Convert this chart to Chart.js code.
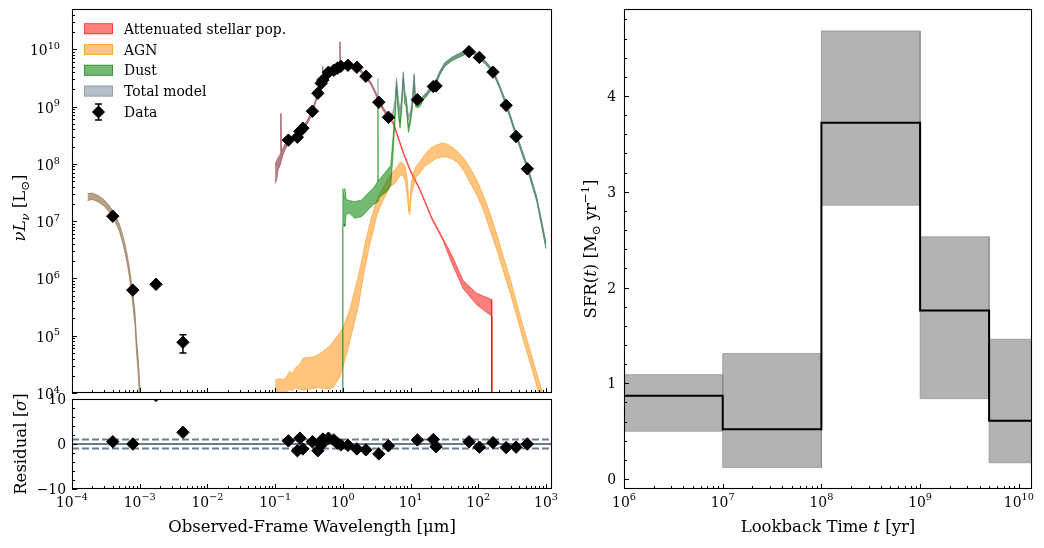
<!DOCTYPE html>
<html><head><meta charset="utf-8">
<script src="https://cdn.jsdelivr.net/npm/chart.js@4.4.1/dist/chart.umd.min.js"></script>
<style>
html,body{margin:0;padding:0;background:#fff;}
#wrap{position:relative;width:1044px;height:548px;overflow:hidden;background:#fff;}
canvas{position:absolute;}
</style></head><body>
<div id="wrap">
<canvas id="sed" width="560" height="420" style="left:0;top:0"></canvas>
<canvas id="res" width="560" height="168" style="left:0;top:380px"></canvas>
<canvas id="sfh" width="474" height="548" style="left:570px;top:0"></canvas>
</div>
<script>
// ================= DATA =================
// Observed photometry (wavelength in micron, nuLnu in L_sun)
const lam    = [4.0e-4, 7.9e-4, 1.74e-3, 4.35e-3, 0.157, 0.213, 0.232, 0.257, 0.355, 0.428, 0.48, 0.507, 0.613, 0.736, 0.829, 0.934, 1.19, 1.61, 2.19, 3.40, 4.71, 12.6, 21.7, 23.8, 73, 104, 165, 258, 362, 530];
const lum    = [1.22e7, 6.25e5, 7.9e5, 7.7e4, 2.6e8, 2.92e8, 3.7e8, 4.2e8, 8.3e8, 1.71e9, 2.55e9, 2.9e9, 3.97e9, 4.31e9, 4.67e9, 5.05e9, 5.26e9, 4.85e9, 3.38e9, 1.19e9, 6.5e8, 1.32e9, 2.24e9, 2.29e9, 9.1e9, 7.2e9, 4.0e9, 1.05e9, 3.0e8, 8.2e7];
const lumErr = [6e5, 4e4, 5e4, 2.7e4, 1.3e7, 1.5e7, 1.9e7, 2.1e7, 4e7, 8e7, 1.2e8, 1.4e8, 2e8, 2.2e8, 2.3e8, 2.5e8, 2.6e8, 2.4e8, 1.7e8, 6e7, 3.3e7, 7e7, 1.1e8, 1.1e8, 4.5e8, 3.6e8, 2e8, 5e7, 1.5e7, 4e6];
const resid  = [0.5, 0.0, 10.8, 2.6, 0.7, -1.5, 1.3, -1.1, 0.5, -1.5, -0.2, 1.1, 1.3, 0.9, 0.2, -0.2, -0.3, -1.1, -1.3, -2.2, -0.4, 0.9, 1.0, -0.6, 0.5, -0.7, 0.3, -0.8, -0.7, 0.0];
const residLines = [-1, 0, 1];

// Model bands: log10(nuLnu / L_sun), lower and upper edges
const xrayLam   = [1.7e-4, 2.0e-4, 2.5e-4, 3.0e-4, 3.5e-4, 4.0e-4, 4.5e-4, 5.0e-4, 5.5e-4, 6.0e-4, 6.5e-4, 7.0e-4, 7.5e-4, 8.0e-4, 8.5e-4, 9.0e-4, 9.5e-4, 1.0e-3, 1.05e-3];
const xrayLogLo = [7.36, 7.38, 7.33, 7.26, 7.17, 7.06, 6.95, 6.83, 6.66, 6.48, 6.28, 6.05, 5.78, 5.50, 5.20, 4.70, 4.35, 3.88, 3.40];
const xrayLogHi = [7.48, 7.49, 7.44, 7.37, 7.28, 7.18, 7.07, 6.95, 6.79, 6.62, 6.42, 6.20, 5.95, 5.70, 5.42, 4.92, 4.60, 4.15, 3.70];

const stelLam   = [0.100, 0.105, 0.110, 0.116, 0.120, 0.1216, 0.123, 0.130, 0.140, 0.157, 0.19, 0.213, 0.232, 0.257, 0.30, 0.355, 0.428, 0.480, 0.495, 0.5007, 0.507, 0.613, 0.736, 0.829, 0.900, 0.907, 0.915, 0.934, 1.19, 1.61, 2.19, 2.6, 3.0, 3.40, 4.0, 4.71, 5.57, 7.0, 7.84, 9.84, 13.8, 20.6, 30.5, 40.6, 60, 95, 158, 158.5];
const stelLogLo = [7.66, 7.72, 7.90, 7.95, 8.00, 8.05, 8.05, 8.15, 8.25, 8.36, 8.42, 8.46, 8.54, 8.60, 8.70, 8.89, 9.20, 9.38, 9.42, 9.43, 9.44, 9.57, 9.63, 9.66, 9.68, 9.69, 9.69, 9.69, 9.70, 9.67, 9.51, 9.38, 9.23, 9.07, 8.92, 8.80, 8.69, 8.34, 8.17, 7.87, 7.53, 7.03, 6.65, 6.27, 5.82, 5.54, 5.34, 1];
const stelLogHi = [7.98, 8.05, 8.10, 8.14, 8.18, 8.88, 8.22, 8.27, 8.34, 8.44, 8.48, 8.52, 8.60, 8.65, 8.76, 8.94, 9.25, 9.43, 9.47, 9.70, 9.49, 9.62, 9.68, 9.71, 9.73, 10.13, 9.74, 9.74, 9.75, 9.71, 9.55, 9.42, 9.27, 9.11, 8.96, 8.84, 8.73, 8.38, 8.21, 7.91, 7.56, 7.07, 6.69, 6.41, 5.96, 5.74, 5.63, 1];

const agnLam   = [0.100, 0.115, 0.132, 0.150, 0.165, 0.180, 0.197, 0.230, 0.261, 0.367, 0.45, 0.515, 0.64, 0.724, 0.91, 1.0, 1.22, 1.28, 1.60, 1.69, 2.00, 2.13, 2.51, 2.67, 3.15, 3.55, 4.2, 4.98, 5.9, 7.0, 7.6, 8.3, 8.9, 9.3, 9.55, 9.8, 10.2, 11.0, 12.0, 13.8, 16.0, 19.4, 24.4, 28.8, 34, 40.6, 50, 63.8, 80, 95, 120, 149, 190, 235, 300, 370, 460, 582, 700, 865, 1000];
const agnLogLo = [3.80, 3.90, 3.95, 4.02, 4.06, 4.04, 4.09, 4.07, 4.05, 4.08, 4.09, 4.08, 4.07, 4.10, 4.29, 4.45, 4.81, 4.92, 5.39, 5.50, 6.03, 6.20, 6.61, 6.72, 7.08, 7.25, 7.43, 7.60, 7.66, 7.80, 7.80, 7.72, 7.45, 7.22, 7.12, 7.20, 7.42, 7.60, 7.76, 7.84, 7.95, 8.02, 8.10, 8.12, 8.12, 8.09, 8.02, 7.84, 7.62, 7.46, 7.18, 6.85, 6.48, 6.12, 5.72, 5.34, 4.93, 4.53, 4.20, 3.82, 3.50];
const agnLogHi = [4.23, 4.25, 4.23, 4.30, 4.38, 4.33, 4.43, 4.50, 4.61, 4.63, 4.68, 4.73, 4.82, 4.90, 5.06, 5.13, 5.40, 5.48, 5.93, 6.03, 6.45, 6.615, 6.96, 7.08, 7.36, 7.49, 7.65, 7.81, 7.90, 8.03, 8.02, 7.95, 7.75, 7.45, 7.18, 7.35, 7.65, 7.84, 7.95, 8.04, 8.15, 8.27, 8.33, 8.36, 8.35, 8.30, 8.21, 8.07, 7.88, 7.72, 7.44, 7.14, 6.75, 6.38, 5.97, 5.57, 5.16, 4.75, 4.42, 4.06, 3.75];

const dustLam   = [0.999, 1.0, 1.04, 1.07, 1.12, 1.25, 1.5, 1.9, 2.37, 2.82, 3.16, 3.28, 3.3, 3.32, 3.4, 3.77, 4.48, 5.1, 5.5, 5.9, 6.2, 6.6, 7.0, 7.4, 7.8, 8.2, 8.6, 9.3, 10.0, 10.6, 11.3, 11.8, 12.6, 13.8, 15.5, 17.3, 20, 23, 27, 32, 40, 50, 62, 74, 90, 104, 133, 167, 210, 263, 370, 530, 730, 1000];
const dustLogLo = [2, 6.90, 6.95, 6.91, 7.12, 7.14, 7.05, 7.08, 7.20, 7.29, 7.32, 7.34, 7.35, 7.36, 7.40, 7.45, 7.52, 7.62, 8.15, 8.75, 9.30, 8.85, 8.62, 8.95, 9.45, 9.05, 9.00, 8.55, 8.72, 8.95, 9.40, 9.00, 8.98, 9.00, 9.12, 9.18, 9.28, 9.35, 9.55, 9.70, 9.79, 9.85, 9.90, 9.93, 9.90, 9.84, 9.72, 9.57, 9.30, 8.98, 8.44, 7.90, 7.35, 6.52];
const dustLogHi = [2, 7.57, 7.40, 7.57, 7.38, 7.36, 7.34, 7.37, 7.49, 7.575, 7.66, 7.70, 9.10, 7.70, 7.70, 7.78, 7.89, 7.97, 8.45, 8.95, 9.44, 9.00, 8.72, 9.10, 9.58, 9.20, 9.15, 8.65, 8.82, 9.10, 9.55, 9.15, 9.08, 9.08, 9.18, 9.24, 9.34, 9.41, 9.61, 9.76, 9.85, 9.91, 9.96, 9.99, 9.95, 9.89, 9.77, 9.62, 9.35, 9.04, 8.50, 7.97, 7.42, 6.62];

const totLam   = [0.100, 0.105, 0.110, 0.116, 0.120, 0.1216, 0.123, 0.130, 0.140, 0.157, 0.19, 0.213, 0.232, 0.257, 0.30, 0.355, 0.428, 0.480, 0.495, 0.5007, 0.507, 0.613, 0.736, 0.829, 0.900, 0.907, 0.915, 0.934, 1.19, 1.61, 2.19, 2.6, 3.0, 3.28, 3.3, 3.32, 3.4, 4.0, 4.71, 5.1, 5.5, 5.9, 6.2, 6.6, 7.0, 7.4, 7.8, 8.2, 8.6, 9.3, 10.0, 10.6, 11.3, 11.8, 12.6, 13.8, 15.5, 17.3, 20, 23, 27, 32, 40, 50, 62, 74, 90, 104, 133, 167, 210, 263, 370, 530, 730, 1000];
const totLogLo = [7.66, 7.72, 7.90, 7.95, 8.00, 8.05, 8.05, 8.15, 8.25, 8.36, 8.42, 8.46, 8.54, 8.60, 8.70, 8.89, 9.20, 9.38, 9.42, 9.43, 9.44, 9.57, 9.63, 9.66, 9.68, 9.69, 9.69, 9.69, 9.70, 9.67, 9.51, 9.38, 9.24, 9.14, 9.14, 9.13, 9.10, 8.94, 8.82, 8.78, 8.84, 9.02, 9.40, 9.06, 8.86, 9.08, 9.50, 9.18, 9.12, 8.76, 8.86, 9.05, 9.46, 9.10, 9.05, 9.05, 9.14, 9.19, 9.29, 9.36, 9.56, 9.71, 9.80, 9.86, 9.91, 9.94, 9.91, 9.85, 9.73, 9.58, 9.31, 8.99, 8.45, 7.91, 7.36, 6.53];
const totLogHi = [7.98, 8.05, 8.10, 8.14, 8.18, 8.88, 8.22, 8.27, 8.34, 8.44, 8.48, 8.52, 8.60, 8.65, 8.76, 8.94, 9.25, 9.43, 9.47, 9.70, 9.49, 9.62, 9.68, 9.71, 9.73, 10.13, 9.74, 9.74, 9.75, 9.71, 9.55, 9.42, 9.28, 9.18, 9.49, 9.17, 9.14, 8.98, 8.86, 8.83, 8.92, 9.12, 9.50, 9.15, 8.93, 9.18, 9.61, 9.27, 9.20, 8.83, 8.93, 9.15, 9.58, 9.19, 9.12, 9.11, 9.20, 9.25, 9.35, 9.42, 9.62, 9.77, 9.86, 9.92, 9.97, 10.00, 9.96, 9.90, 9.78, 9.63, 9.36, 9.05, 8.51, 7.98, 7.43, 6.63];

// Tick labels (powers of ten / values)
const sedXExp = [-4, -3, -2, -1, 0, 1, 2, 3];
const sedYExp = [4, 5, 6, 7, 8, 9, 10];
const resYTicks = [-10, 0, 10];

// Star-formation history
const sfhEdges = [1e6, 1e7, 1e8, 1e9, 5e9, 1.36e10];
const sfhMed   = [0.87, 0.52, 3.72, 1.76, 0.61];
const sfhLo    = [0.50, 0.12, 2.86, 0.84, 0.17];
const sfhHi    = [1.09, 1.31, 4.68, 2.53, 1.46];
const sfhXExp  = [6, 7, 8, 9, 10];
const sfhYTicks = [0, 1, 2, 3, 4];

// ================= HELPERS =================
const FONT = '"DejaVu Serif", "Liberation Serif", serif';
const COL = {
  stel: 'rgba(255,0,0,0.5)',
  agn: 'rgba(255,140,0,0.5)',
  dust: 'rgba(0,128,0,0.55)',
  tot: 'rgba(112,128,144,0.5)',
  sfh: 'rgba(128,128,128,0.6)',
  resLine: 'rgb(108,124,144)'
};
const MARK_R = 6.2;
const pts = (xs, ys) => xs.map((x, i) => ({x: x, y: ys[i]}));
const unlog = a => a.map(v => Math.pow(10, v));

function rich(ctx, segs, x, y, fs, align, rot) {
  ctx.save();
  ctx.translate(x, y);
  if (rot) ctx.rotate(rot);
  let w = 0;
  const parts = segs.map(s => {
    const size = (s.sub || s.sup) ? fs * 0.7 : fs;
    const font = (s.it ? 'italic ' : '') + size.toFixed(2) + 'px ' + FONT;
    ctx.font = font;
    const mw = ctx.measureText(s.t).width;
    const dy = s.sub ? fs * 0.22 : (s.sup ? -fs * 0.45 : 0);
    w += mw;
    return {t: s.t, font: font, w: mw, dy: dy};
  });
  let cx = align === 'center' ? -w / 2 : (align === 'right' ? -w : 0);
  ctx.textBaseline = 'alphabetic';
  ctx.textAlign = 'left';
  ctx.fillStyle = '#000';
  parts.forEach(p => { ctx.font = p.font; ctx.fillText(p.t, cx, p.dy); cx += p.w; });
  ctx.restore();
}
const p10 = e => [{t: '10'}, {t: (e < 0 ? '\u2212' + (-e) : String(e)), sup: true}];
function logMinors(exps, lo, hi) {
  const out = [];
  for (let e = exps[0] - 1; e <= exps[exps.length - 1] + 1; e++)
    for (let k = 2; k <= 9; k++) { const v = k * Math.pow(10, e); if (v > lo && v < hi) out.push(v); }
  return out;
}
function decor(cfg) {
  return {
    id: 'decor',
    afterDraw(chart) {
      const ctx = chart.ctx, a = chart.chartArea, xs = chart.scales.x, ys = chart.scales.y;
      ctx.save();
      ctx.strokeStyle = '#000';
      ctx.lineWidth = 1;
      ctx.beginPath();
      const tx = (v, L) => { const p = Math.round(xs.getPixelForValue(v)) + 0.5; ctx.moveTo(p, a.bottom); ctx.lineTo(p, a.bottom - L); };
      const ty = (v, L) => { const p = Math.round(ys.getPixelForValue(v)) + 0.5; ctx.moveTo(a.left, p); ctx.lineTo(a.left + L, p); };
      cfg.xMajor.forEach(v => tx(v, 5));
      cfg.xMinor.forEach(v => tx(v, 3));
      cfg.yMajor.forEach(v => ty(v, 5));
      cfg.yMinor.forEach(v => ty(v, 3));
      ctx.stroke();
      ctx.lineWidth = 1.1;
      ctx.strokeRect(a.left + 0.5, a.top + 0.5, a.right - a.left - 1, a.bottom - a.top - 1);
      if (cfg.extra) cfg.extra(chart, ctx, a, xs, ys);
      ctx.restore();
    }
  };
}
function band(xArr, loLog, hiLog, color, loIndex, order) {
  return [
    {data: pts(xArr, unlog(loLog)), showLine: true, pointRadius: 0, borderColor: color, borderWidth: 1, fill: false, order: order, clip: 0},
    {data: pts(xArr, unlog(hiLog)), showLine: true, pointRadius: 0, borderColor: color, backgroundColor: color, borderWidth: 1, fill: {target: loIndex}, order: order, clip: 0}
  ];
}
Chart.defaults.font.family = FONT;
const baseOpts = {
  responsive: false, animation: false, devicePixelRatio: 1,
  plugins: {legend: {display: false}, tooltip: {enabled: false}},
  events: [],
  elements: {line: {tension: 0}}
};

// ================= SED =================
const sedX = {type: 'logarithmic', min: 1e-4, max: 1227, bounds: 'data', display: false};
const sedDatasets = [
  {data: pts(lam, lum), showLine: false, pointStyle: 'rectRot', pointRadius: MARK_R, backgroundColor: '#000', borderColor: '#000', borderWidth: 1, order: 0},
  ...band(xrayLam, xrayLogLo, xrayLogHi, COL.tot, 1, 1),
  ...band(totLam, totLogLo, totLogHi, COL.tot, 3, 1),
  ...band(dustLam, dustLogLo, dustLogHi, COL.dust, 5, 2),
  ...band(xrayLam, xrayLogLo, xrayLogHi, COL.agn, 7, 3),
  ...band(agnLam, agnLogLo, agnLogHi, COL.agn, 9, 3),
  ...band(stelLam, stelLogLo, stelLogHi, COL.stel, 11, 4)
];
const errPlugin = {
  id: 'errbars',
  beforeDatasetDraw(chart, args) {
    if (args.index !== 0) return;
    const ctx = chart.ctx, xs = chart.scales.x, ys = chart.scales.y;
    ctx.save(); ctx.strokeStyle = '#000'; ctx.lineWidth = 1.5; ctx.beginPath();
    lam.forEach((l, i) => {
      const px = xs.getPixelForValue(l);
      const y1 = ys.getPixelForValue(lum[i] + lumErr[i]);
      const y2 = ys.getPixelForValue(Math.max(lum[i] - lumErr[i], 1));
      ctx.moveTo(px, y1); ctx.lineTo(px, y2);
      ctx.moveTo(px - 3.5, y1); ctx.lineTo(px + 3.5, y1);
      ctx.moveTo(px - 3.5, y2); ctx.lineTo(px + 3.5, y2);
    });
    ctx.stroke(); ctx.restore();
  }
};
const legendItems = [
  {label: 'Attenuated stellar pop.', color: COL.stel},
  {label: 'AGN', color: COL.agn},
  {label: 'Dust', color: COL.dust},
  {label: 'Total model', color: COL.tot}
];
new Chart(document.getElementById('sed'), {
  type: 'scatter',
  data: {datasets: sedDatasets},
  options: Object.assign({}, baseOpts, {
    layout: {padding: {left: 72, right: 8, top: 9, bottom: 27}},
    scales: {x: sedX, y: {type: 'logarithmic', min: 1e4, max: 5.05e10, bounds: 'data', display: false}}
  }),
  plugins: [errPlugin, decor({
    xMajor: sedXExp.map(e => Math.pow(10, e)), xMinor: logMinors(sedXExp, 1e-4, 1227),
    yMajor: sedYExp.map(e => Math.pow(10, e)), yMinor: logMinors(sedYExp, 1e4, 5.05e10),
    extra(chart, ctx, a, xs, ys) {
      sedYExp.forEach(e => rich(ctx, p10(e), 60, ys.getPixelForValue(Math.pow(10, e)) + 6, 13.9, 'right'));
      rich(ctx, [{t: '\u03bd', it: true}, {t: 'L', it: true}, {t: '\u03bd', it: true, sub: true}, {t: ' [L'}, {t: '\u2299', sub: true}, {t: ']'}], 25, 208, 16.5, 'center', -Math.PI / 2);
      // legend
      const rows = [28.7, 49.5, 70.3, 91.1, 112];
      legendItems.forEach((it, i) => {
        const y = rows[i];
        ctx.fillStyle = it.color; ctx.strokeStyle = it.color; ctx.lineWidth = 1;
        ctx.fillRect(84, y - 5.5, 29, 11); ctx.strokeRect(84.5, y - 5, 28, 10);
        ctx.fillStyle = '#000'; ctx.font = '13.9px ' + FONT; ctx.textAlign = 'left'; ctx.textBaseline = 'alphabetic';
        ctx.fillText(it.label, 124, y + 5);
      });
      const yd = rows[4];
      ctx.strokeStyle = '#000'; ctx.lineWidth = 1.5; ctx.beginPath();
      ctx.moveTo(98.5, yd - 8); ctx.lineTo(98.5, yd + 8);
      ctx.moveTo(95, yd - 8); ctx.lineTo(102, yd - 8);
      ctx.moveTo(95, yd + 8); ctx.lineTo(102, yd + 8);
      ctx.stroke();
      ctx.fillStyle = '#000'; ctx.beginPath();
      ctx.moveTo(98.5, yd - 6.6); ctx.lineTo(105.1, yd); ctx.lineTo(98.5, yd + 6.6); ctx.lineTo(91.9, yd); ctx.closePath(); ctx.fill();
      ctx.fillStyle = '#000'; ctx.font = '13.9px ' + FONT; ctx.fillText('Data', 124, yd + 5);
    }
  })]
});

// ================= RESIDUALS =================
const resDatasets = [
  {data: pts(lam, resid), showLine: false, pointStyle: 'rectRot', pointRadius: MARK_R, backgroundColor: '#000', borderColor: '#000', borderWidth: 1, order: 0, clip: 0}
];
residLines.forEach(v => resDatasets.push({
  data: [{x: 1e-4, y: v}, {x: 1227, y: v}], showLine: true, pointRadius: 0,
  borderColor: COL.resLine, borderWidth: 1.8, borderDash: v === 0 ? [] : [7, 3], fill: false, order: 1, clip: 0
}));
new Chart(document.getElementById('res'), {
  type: 'scatter',
  data: {datasets: resDatasets},
  options: Object.assign({}, baseOpts, {
    layout: {padding: {left: 72, right: 8, top: 19, bottom: 59}},
    scales: {x: sedX, y: {type: 'linear', min: -10, max: 10, display: false}}
  }),
  plugins: [decor({
    xMajor: sedXExp.map(e => Math.pow(10, e)), xMinor: logMinors(sedXExp, 1e-4, 1227),
    yMajor: resYTicks, yMinor: [-8, -6, -4, -2, 2, 4, 6, 8],
    extra(chart, ctx, a, xs, ys) {
      sedXExp.forEach(e => rich(ctx, p10(e), xs.getPixelForValue(Math.pow(10, e)), a.bottom + 17.5, 13.9, 'center'));
      resYTicks.forEach(v => rich(ctx, [{t: v < 0 ? '\u2212' + (-v) : String(v)}], 66, ys.getPixelForValue(v) + 5, 13.9, 'right'));
      rich(ctx, [{t: 'Residual ['}, {t: '\u03c3', it: true}, {t: ']'}], 26, (a.top + a.bottom) / 2, 16.5, 'center', -Math.PI / 2);
      rich(ctx, [{t: 'Observed-Frame Wavelength [\u03bcm]'}], (a.left + a.right) / 2, a.bottom + 43, 16.5, 'center');
    }
  })]
});

// ================= SFH =================
const sfhDatasets = [];
const stepPts = [];
sfhMed.forEach((m, i) => { stepPts.push({x: sfhEdges[i], y: m}); stepPts.push({x: sfhEdges[i + 1], y: m}); });
sfhDatasets.push({data: stepPts, showLine: true, pointRadius: 0, borderColor: '#000', borderWidth: 2, fill: false, order: 0, clip: 0});
sfhLo.forEach((lo, i) => {
  const e0 = sfhEdges[i], e1 = sfhEdges[i + 1], hi = sfhHi[i];
  sfhDatasets.push({
    data: [{x: e0, y: lo}, {x: e0, y: hi}, {x: e1, y: hi}, {x: e1, y: lo}, {x: e0, y: lo}],
    showLine: true, pointRadius: 0, borderColor: COL.sfh, backgroundColor: COL.sfh, borderWidth: 1, fill: 'shape', order: 1, clip: 0
  });
});
new Chart(document.getElementById('sfh'), {
  type: 'scatter',
  data: {datasets: sfhDatasets},
  options: Object.assign({}, baseOpts, {
    layout: {padding: {left: 54, right: 12, top: 9, bottom: 59}},
    scales: {
      x: {type: 'logarithmic', min: 1e6, max: 1.36e10, bounds: 'data', display: false},
      y: {type: 'linear', min: -0.104, max: 4.909, display: false}
    }
  }),
  plugins: [decor({
    xMajor: sfhXExp.map(e => Math.pow(10, e)), xMinor: logMinors(sfhXExp, 1e6, 1.36e10),
    yMajor: sfhYTicks, yMinor: [0.2, 0.4, 0.6, 0.8, 1.2, 1.4, 1.6, 1.8, 2.2, 2.4, 2.6, 2.8, 3.2, 3.4, 3.6, 3.8, 4.2, 4.4, 4.6, 4.8],
    extra(chart, ctx, a, xs, ys) {
      sfhXExp.forEach(e => rich(ctx, p10(e), xs.getPixelForValue(Math.pow(10, e)), a.bottom + 17.5, 13.9, 'center'));
      sfhYTicks.forEach(v => rich(ctx, [{t: String(v)}], a.left - 8, ys.getPixelForValue(v) + 5, 13.9, 'right'));
      rich(ctx, [{t: 'SFR('}, {t: 't', it: true}, {t: ') [M'}, {t: '\u2299', sub: true}, {t: ' yr'}, {t: '\u22121', sup: true}, {t: ']'}], 26, (a.top + a.bottom) / 2, 16.5, 'center', -Math.PI / 2);
      rich(ctx, [{t: 'Lookback Time '}, {t: 't', it: true}, {t: ' [yr]'}], (a.left + a.right) / 2, a.bottom + 43, 16.5, 'center');
    }
  })]
});
</script>
</body></html>
